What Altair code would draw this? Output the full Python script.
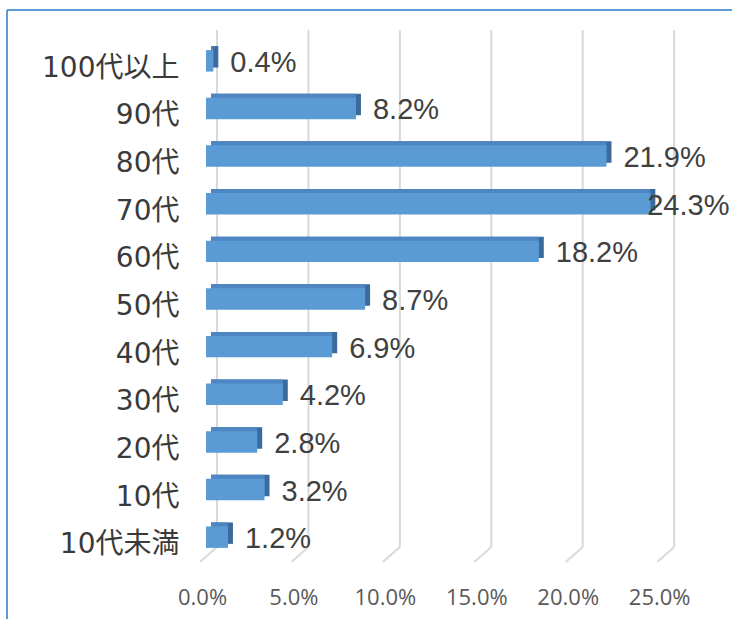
import altair as alt
import pandas as pd

categories = ["100代以上", "90代", "80代", "70代", "60代", "50代", "40代", "30代", "20代", "10代", "10代未満"]
shares = [0.4, 8.2, 21.9, 24.3, 18.2, 8.7, 6.9, 4.2, 2.8, 3.2, 1.2]
tick_values = [0, 5, 10, 15, 20, 25]

df = pd.DataFrame({"cat": categories, "v": shares})
df["label"] = [f"{s:.1f}%" for s in shares]
grid_df = pd.DataFrame({"g": tick_values})
one = pd.DataFrame({"a": [0]})

xscale = alt.Scale(domain=[0, 28], nice=False, zero=True)
yscale = alt.Scale(domain=categories, paddingInner=0.55, paddingOuter=0.275)

FRONT = "#5b9bd5"
TOP = "#4d86c2"
SIDE = "#3b6a9c"

grid_v = alt.Chart(grid_df).mark_rule(color="#d9d9d9", strokeWidth=2, xOffset=11).encode(
    x=alt.X("g:Q", scale=xscale),
    y=alt.value(-7),
    y2=alt.value(510),
)
grid_d = alt.Chart(grid_df).mark_rule(color="#d9d9d9", strokeWidth=2, xOffset=11, x2Offset=-6).encode(
    x=alt.X("g:Q", scale=xscale),
    x2=alt.X2("g"),
    y=alt.value(510),
    y2=alt.value(525),
)

y_enc = alt.Y(
    "cat:N",
    scale=yscale,
    sort=categories,
    axis=alt.Axis(
        title=None, ticks=False, domain=False, labelPadding=27, labelOffset=8,
        labelFont="DejaVu Sans, Noto Sans CJK JP", labelFontSize=28, labelColor="#3a3a3a",
    ),
)

side = alt.Chart(df).mark_bar(color=SIDE, xOffset=5, x2Offset=5, yOffset=-4, y2Offset=-4).encode(
    x=alt.X("v:Q", scale=xscale, axis=alt.Axis(
        title=None, values=tick_values, grid=False, ticks=False, domain=False,
        labelExpr="format(datum.value, '.1f') + '%'", labelPadding=26, labelOffset=-4,
        labelFlush=False,
        labelFont="Open Sans", labelFontSize=22, labelColor="#595959",
    )),
    x2=alt.datum(0),
    y=y_enc,
)
top = alt.Chart(df).mark_bar(color=TOP, xOffset=0, x2Offset=5, yOffset=-4, y2Offset=-4).encode(
    x=alt.X("v:Q", scale=xscale),
    x2=alt.datum(0),
    y=alt.Y("cat:N", scale=yscale, sort=categories),
)
front = alt.Chart(df).mark_bar(color=FRONT).encode(
    x=alt.X("v:Q", scale=xscale),
    x2=alt.datum(0),
    y=alt.Y("cat:N", scale=yscale, sort=categories),
)
labels = alt.Chart(df).transform_calculate(
    lx="min(datum.v, 23.2)"
).mark_text(
    align="left", baseline="middle", dx=17, dy=2,
    font="Liberation Sans", fontSize=29, color="#404040",
).encode(
    x=alt.X("lx:Q", scale=xscale),
    y=alt.Y("cat:N", scale=yscale, sort=categories),
    text="label:N",
)

frame_top = alt.Chart(one).mark_rule(color="#5b9bd5", strokeWidth=2).encode(
    x=alt.value(-199), x2=alt.value(540), y=alt.value(-27)
)
frame_left = alt.Chart(one).mark_rule(color="#5b9bd5", strokeWidth=2).encode(
    x=alt.value(-199), y=alt.value(-27), y2=alt.value(600)
)

chart = alt.layer(
    grid_v, grid_d, side, top, front, labels, frame_top, frame_left
).properties(
    width=512,
    height=524,
    autosize=alt.AutoSizeParams(type="none"),
    padding={"left": 206, "top": 37, "right": 14, "bottom": 58},
).configure(background="white").configure_view(stroke=None)

chart.save("out.html", embed_options={"renderer": "svg", "actions": False})
